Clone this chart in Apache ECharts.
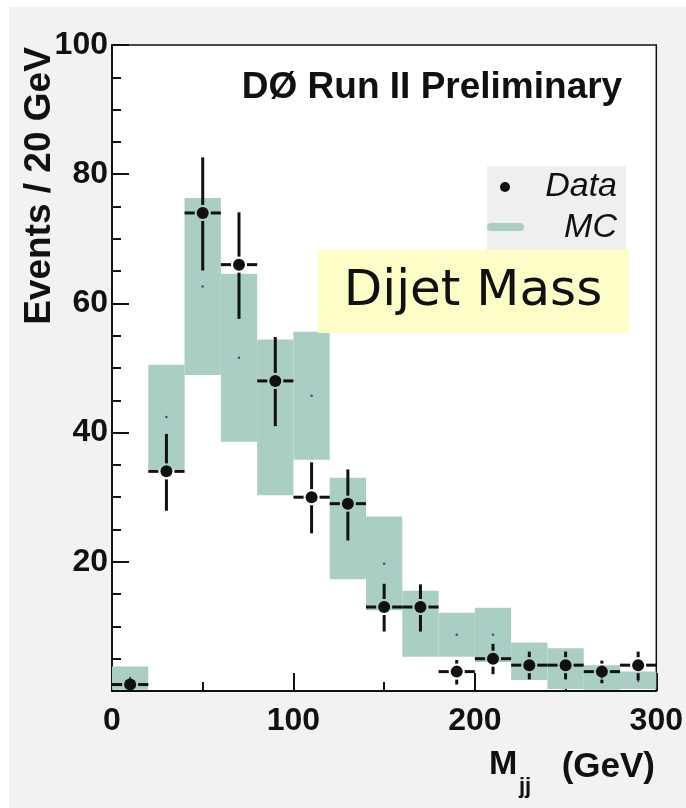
<!DOCTYPE html>
<html>
<head>
<meta charset="utf-8">
<script src="https://cdn.jsdelivr.net/npm/echarts@6/dist/echarts.min.js"></script>
<style>
  html, body { margin: 0; padding: 0; background: #fff; }
  #main { width: 686px; height: 808px; }
</style>
</head>
<body>
<div id="main"></div>
<script>
// bins of 20 GeV
var binEdges = [0, 20, 40, 60, 80, 100, 120, 140, 160, 180, 200, 220, 240, 260, 280, 300];
var binCenters = [10, 30, 50, 70, 90, 110, 130, 150, 170, 190, 210, 230, 250, 270, 290];

// MC band (low / high edge) and its central value
var mcLow  = [0.2, 34.3, 48.9, 38.6, 30.3, 35.8, 17.3, 12.5, 5.3, 5.3, 4.5, 1.7, 0.3, 0.2, 0.3];
var mcHigh = [3.8, 50.5, 76.3, 64.6, 54.4, 55.6, 33.0, 27.0, 15.5, 12.1, 12.9, 7.5, 6.6, 4.0, 3.0];
var mcMid  = [2.0, 42.4, 62.6, 51.6, 42.3, 45.7, 25.1, 19.7, 10.4, 8.7, 8.7, 4.6, 3.5, 2.1, 1.6];

// data points with error bars
var dataY   = [1, 34, 74, 66, 48, 30, 29, 13, 13, 3, 5, 4, 4, 3, 4];
var dataLow = [1, 27.9, 65.1, 57.6, 41.0, 24.4, 23.3, 9.2, 9.2, 1.0, 2.6, 1.8, 1.8, 1.2, 1.7];
var dataHigh= [1, 39.8, 82.6, 74.1, 54.8, 35.4, 34.3, 16.6, 16.5, 4.8, 7.3, 6.1, 6.1, 4.7, 6.1];

var xTicks = [0, 100, 200, 300];
var yTicks = [20, 40, 60, 80, 100];

var TEAL = '#aacdc4';
var FONT = 'Liberation Sans, Arial, sans-serif';

var mcData = [], midData = [], ptData = [];
for (var i = 0; i < binCenters.length; i++) {
    mcData.push([binEdges[i], binEdges[i + 1], mcLow[i], mcHigh[i]]);
    midData.push([binCenters[i], mcMid[i]]);
    ptData.push([binCenters[i], dataY[i], dataLow[i], dataHigh[i], binEdges[i], binEdges[i + 1]]);
}

var myChart = echarts.init(document.getElementById('main'));

var option = {
    backgroundColor: '#f2f2f2',
    animation: false,
    grid: {
        left: 112, right: 28, top: 45, bottom: 117,
        show: true, backgroundColor: '#fff', borderColor: '#111', borderWidth: 1.5
    },
    xAxis: {
        type: 'value', min: 0, max: 300, interval: 100,
        axisLine: { lineStyle: { color: '#111', width: 2 } },
        axisTick: { inside: true, length: 18, lineStyle: { color: '#111', width: 2 } },
        minorTick: { show: true, splitNumber: 2, length: 9, lineStyle: { color: '#111', width: 2 } },
        splitLine: { show: false },
        axisLabel: {
            color: '#111', fontSize: 32, fontWeight: 'bold', fontFamily: FONT, margin: 14,
            formatter: function (v) { return xTicks.indexOf(v) >= 0 ? String(v) : ''; }
        }
    },
    yAxis: {
        type: 'value', min: 0, max: 100, interval: 20,
        axisLine: { lineStyle: { color: '#111', width: 2 } },
        axisTick: { inside: true, length: 17, lineStyle: { color: '#111', width: 2 } },
        minorTick: { show: true, splitNumber: 4, length: 9, lineStyle: { color: '#111', width: 2 } },
        splitLine: { show: false },
        axisLabel: {
            color: '#111', fontSize: 32, fontWeight: 'bold', fontFamily: FONT, margin: 4,
            formatter: function (v) { return yTicks.indexOf(v) >= 0 ? String(v) : ''; }
        }
    },
    graphic: [
        { type: 'rect', shape: { x: 0, y: 0, width: 686, height: 7 }, style: { fill: '#fff' }, silent: true },
        { type: 'rect', shape: { x: 0, y: 0, width: 9, height: 808 }, style: { fill: '#fff' }, silent: true },
        {
            type: 'text', x: 40, y: 186, rotation: Math.PI / 2,
            style: { text: 'Events / 20 GeV', fontSize: 37, fontWeight: 'bold', fontFamily: FONT,
                     fill: '#111', textAlign: 'center', textVerticalAlign: 'middle' }
        },
        {
            type: 'text', x: 432, y: 88, z: 10,
            style: { text: 'DØ Run II Preliminary', fontSize: 37, fontWeight: 'bold', fontFamily: FONT,
                     fill: '#111', textAlign: 'center', textVerticalAlign: 'middle' }
        },
        // legend
        { type: 'rect', z: 10, shape: { x: 487, y: 166, width: 139, height: 84 }, style: { fill: '#efefef' } },
        { type: 'circle', z: 11, shape: { cx: 505, cy: 187, r: 5 }, style: { fill: '#111' } },
        { type: 'line', z: 11, shape: { x1: 491, y1: 227, x2: 520, y2: 227 },
          style: { stroke: TEAL, lineWidth: 8, lineCap: 'round' } },
        { type: 'text', z: 11, x: 617, y: 187,
          style: { text: 'Data', fontSize: 34, fontStyle: 'italic', fontFamily: FONT, fill: '#111',
                   textAlign: 'right', textVerticalAlign: 'middle' } },
        { type: 'text', z: 11, x: 617, y: 228,
          style: { text: 'MC', fontSize: 34, fontStyle: 'italic', fontFamily: FONT, fill: '#111',
                   textAlign: 'right', textVerticalAlign: 'middle' } },
        // yellow label box
        { type: 'rect', z: 12, shape: { x: 318, y: 250, width: 311, height: 83 }, style: { fill: '#fdfdc8' } },
        { type: 'text', z: 13, x: 473, y: 292,
          style: { text: 'Dijet Mass', fontSize: 50, fontFamily: 'DejaVu Sans, sans-serif', fill: '#111',
                   textAlign: 'center', textVerticalAlign: 'middle' } },
        // x axis title
        { type: 'text', x: 489, y: 765,
          style: { text: 'M', fontSize: 34, fontWeight: 'bold', fontFamily: FONT, fill: '#111',
                   textAlign: 'left', textVerticalAlign: 'middle' } },
        { type: 'text', x: 519, y: 787,
          style: { text: 'jj', fontSize: 22, fontWeight: 'bold', fontFamily: FONT, fill: '#111',
                   textAlign: 'left', textVerticalAlign: 'middle' } },
        { type: 'text', x: 655, y: 767,
          style: { text: '(GeV)', fontSize: 35, fontWeight: 'bold', fontFamily: FONT, fill: '#111',
                   textAlign: 'right', textVerticalAlign: 'middle' } }
    ],
    series: [
        {
            type: 'custom', name: 'MC', z: 2,
            renderItem: function (params, api) {
                var p0 = api.coord([api.value(0), api.value(3)]);
                var p1 = api.coord([api.value(1), api.value(2)]);
                return {
                    type: 'rect',
                    shape: { x: p0[0], y: p0[1], width: p1[0] - p0[0], height: p1[1] - p0[1] },
                    style: { fill: TEAL }
                };
            },
            data: mcData
        },
        {
            type: 'scatter', name: 'MC mid', z: 3, symbol: 'circle', symbolSize: 2.5,
            itemStyle: { color: '#334' },
            data: midData
        },
        {
            type: 'custom', name: 'Data', z: 4,
            renderItem: function (params, api) {
                var c = api.coord([api.value(0), api.value(1)]);
                var lo = api.coord([api.value(0), api.value(2)]);
                var hi = api.coord([api.value(0), api.value(3)]);
                var l = api.coord([api.value(4), api.value(1)]);
                var r = api.coord([api.value(5), api.value(1)]);
                var gap = 8;
                var st = { stroke: '#111', lineWidth: 3 };
                var kids = [
                    { type: 'line', shape: { x1: l[0], y1: c[1], x2: c[0] - gap, y2: c[1] }, style: st },
                    { type: 'line', shape: { x1: c[0] + gap, y1: c[1], x2: r[0], y2: c[1] }, style: st }
                ];
                if (c[1] - hi[1] > gap) {
                    kids.push({ type: 'line', shape: { x1: c[0], y1: hi[1], x2: c[0], y2: c[1] - gap }, style: st });
                }
                if (lo[1] - c[1] > gap) {
                    kids.push({ type: 'line', shape: { x1: c[0], y1: c[1] + gap, x2: c[0], y2: lo[1] }, style: st });
                }
                kids.push({ type: 'circle', shape: { cx: c[0], cy: c[1], r: 6 }, style: { fill: '#111' } });
                return { type: 'group', children: kids };
            },
            data: ptData
        }
    ]
};
myChart.setOption(option);
</script>
</body>
</html>
